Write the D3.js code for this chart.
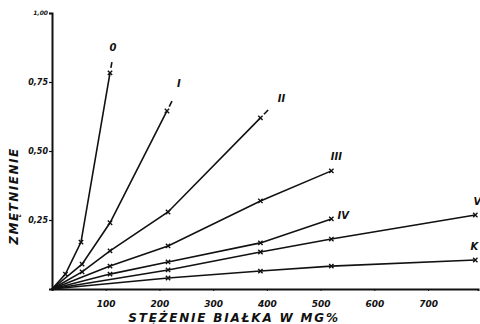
<!DOCTYPE html>
<html>
<head>
<meta charset="utf-8">
<script src="https://cdn.jsdelivr.net/npm/d3@7"></script>
<style>
  html, body { margin: 0; padding: 0; background: #fff; }
  svg { display: block; }
  text { font-family: "DejaVu Sans", sans-serif; font-style: italic; font-weight: bold; fill: #111; }
</style>
</head>
<body>
<svg id="chart" width="480" height="324"></svg>
<script>
// Turbidity (zmętnienie) against protein concentration (mg%), one curve per series
const seriesNames = ["0", "I", "II", "III", "IV", "V", "K"];
const conc0   = [0, 25, 54, 108];
const turb0   = [0, 0.054, 0.17, 0.783];
const concI   = [0, 56, 108, 214];
const turbI   = [0, 0.09, 0.24, 0.645];
const concII  = [0, 56, 108, 216, 388];
const turbII  = [0, 0.062, 0.138, 0.279, 0.62];
const concIII = [0, 108, 216, 388, 520];
const turbIII = [0, 0.083, 0.156, 0.319, 0.428];
const concIV  = [0, 108, 216, 388, 520];
const turbIV  = [0, 0.054, 0.098, 0.167, 0.254];
const concV   = [0, 216, 388, 520, 788];
const turbV   = [0, 0.069, 0.134, 0.181, 0.268];
const concK   = [0, 216, 388, 520, 788];
const turbK   = [0, 0.04, 0.065, 0.083, 0.105];

const xTicks = [100, 200, 300, 400, 500, 600, 700];
const yTicks = [0.25, 0.5, 0.75, 1.0];

const svg = d3.select("#chart");
const x = d3.scaleLinear().domain([0, 793]).range([52, 478]);
const y = d3.scaleLinear().domain([0, 1]).range([289, 13]);

const series = [
  { name: seriesNames[0], xs: conc0,   ys: turb0,   extend: true,  lab: [3, -22] },
  { name: seriesNames[1], xs: concI,   ys: turbI,   extend: true,  lab: [12, -24] },
  { name: seriesNames[2], xs: concII,  ys: turbII,  extend: true,  lab: [21, -16] },
  { name: seriesNames[3], xs: concIII, ys: turbIII, extend: false, lab: [5, -11] },
  { name: seriesNames[4], xs: concIV,  ys: turbIV,  extend: false, lab: [12, 0] },
  { name: seriesNames[5], xs: concV,   ys: turbV,   extend: false, lab: [2, -10] },
  { name: seriesNames[6], xs: concK,   ys: turbK,   extend: false, lab: [-1, -10] }
].map(s => ({ ...s, pts: s.xs.map((c, i) => [c, s.ys[i]]) }));

// Axes
const fmt = d => d3.format(".2f")(d).replace(".", ",");
const yAxis = svg.append("g").attr("transform", "translate(52,0)")
  .call(d3.axisLeft(y).tickValues(yTicks).tickSize(3).tickPadding(1).tickFormat(fmt));
yAxis.select(".domain").attr("stroke", "#111").attr("stroke-width", 2);
yAxis.selectAll(".tick line").attr("stroke", "#111").attr("stroke-width", 1.2);
yAxis.selectAll(".tick text")
  .style("font-size", d => d === 1 ? "6px" : "8px")
  .style("font-family", "'DejaVu Sans', sans-serif");

const xAxis = svg.append("g").attr("transform", "translate(0,289)")
  .call(d3.axisBottom(x).tickValues(xTicks).tickSize(2).tickPadding(10).tickFormat(d3.format("d")));
xAxis.select(".domain").attr("stroke", "#111").attr("stroke-width", 2);
xAxis.selectAll(".tick line").attr("stroke", "#111");
xAxis.selectAll(".tick text")
  .style("font-size", "9px")
  .style("font-family", "'DejaVu Sans', sans-serif");

// Axis titles
svg.append("text")
  .attr("x", 234).attr("y", 322)
  .attr("text-anchor", "middle")
  .style("font-size", "12px")
  .style("letter-spacing", "1.8px")
  .text("STĘŻENIE BIAŁKA W MG%");

svg.append("text")
  .attr("transform", "translate(18,196) rotate(-90)")
  .attr("text-anchor", "middle")
  .style("font-size", "12px")
  .style("letter-spacing", "1.5px")
  .text("ZMĘTNIENIE");

// Curves
const line = d3.line().x(d => x(d[0])).y(d => y(d[1]));
const g = svg.append("g");
g.selectAll("path.curve").data(series).join("path")
  .attr("class", "curve")
  .attr("d", s => line(s.pts))
  .attr("fill", "none")
  .attr("stroke", "#111")
  .attr("stroke-width", 1.6);

// Short dash beyond the final point on the steepest curves
series.filter(s => s.extend).forEach(s => {
  const n = s.pts.length;
  const p1 = [x(s.pts[n - 2][0]), y(s.pts[n - 2][1])];
  const p2 = [x(s.pts[n - 1][0]), y(s.pts[n - 1][1])];
  const dx = p2[0] - p1[0], dy = p2[1] - p1[1];
  const len = Math.hypot(dx, dy);
  const ux = dx / len, uy = dy / len;
  g.append("line")
    .attr("x1", p2[0] + ux * 5).attr("y1", p2[1] + uy * 5)
    .attr("x2", p2[0] + ux * 11).attr("y2", p2[1] + uy * 11)
    .attr("stroke", "#111").attr("stroke-width", 1.6);
});

// Cross markers at each measured point
const markers = series.flatMap(s => s.pts.filter(p => p[0] > 0));
const cross = d3.symbol().type(d3.symbolX).size(14);
g.selectAll("path.mark").data(markers).join("path")
  .attr("class", "mark")
  .attr("transform", d => `translate(${x(d[0])},${y(d[1])})`)
  .attr("d", cross)
  .attr("fill", "none")
  .attr("stroke", "#111")
  .attr("stroke-width", 1.4);

// Series labels near each curve's end
g.selectAll("text.lab").data(series).join("text")
  .attr("class", "lab")
  .attr("x", s => x(s.pts[s.pts.length - 1][0]) + s.lab[0])
  .attr("y", s => y(s.pts[s.pts.length - 1][1]) + s.lab[1])
  .attr("text-anchor", "middle")
  .style("font-size", "10px")
  .text(s => s.name);
</script>
</body>
</html>
